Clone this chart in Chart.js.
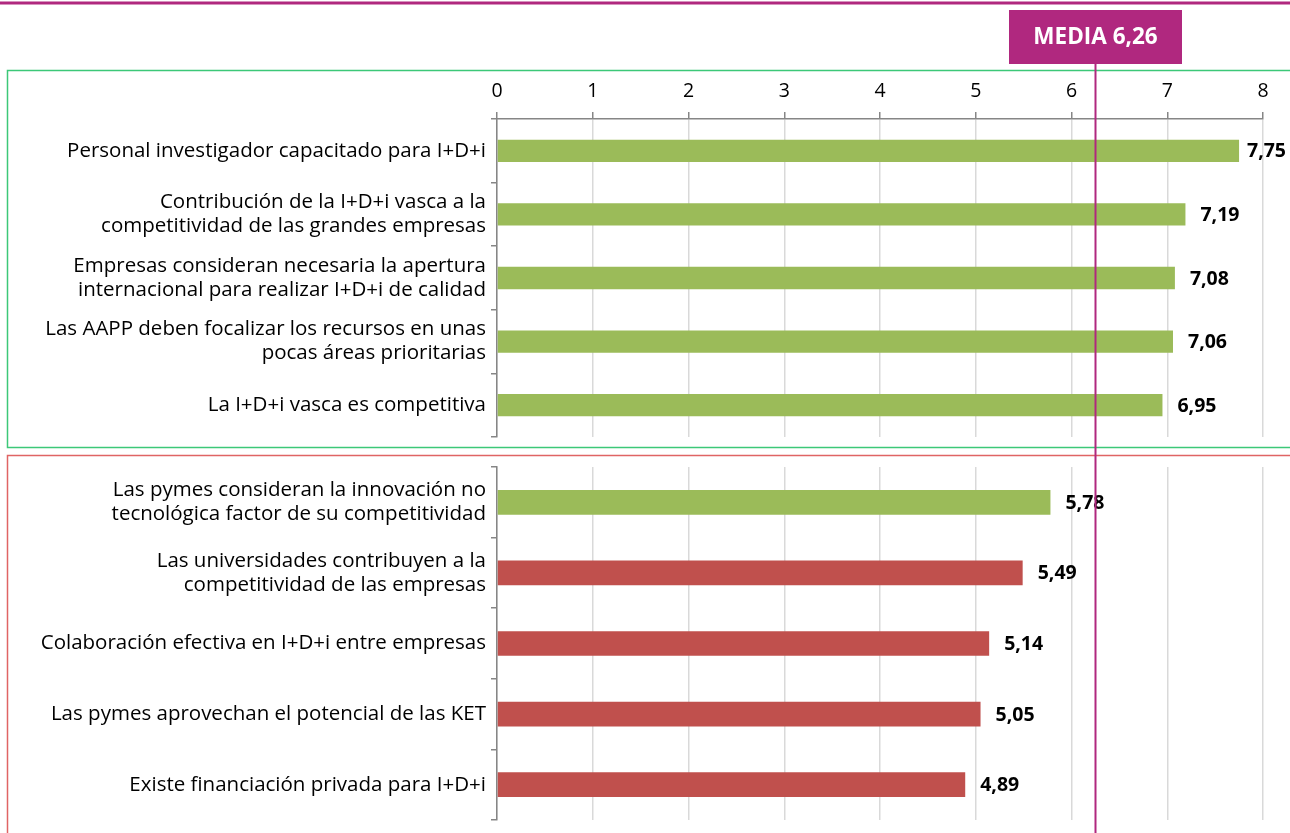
<!DOCTYPE html>
<html>
<head>
<meta charset="utf-8">
<script src="https://cdn.jsdelivr.net/npm/chart.js@4/dist/chart.umd.min.js"></script>
<style>
  html, body { margin: 0; padding: 0; background: #fff; }
  body { width: 1290px; height: 833px; position: relative; overflow: hidden; }
  #top-wrap { position: absolute; left: 0; top: 0; width: 1290px; height: 452px; }
  #bottom-wrap { position: absolute; left: 0; top: 452px; width: 1290px; height: 381px; }
</style>
</head>
<body>
<div id="top-wrap"><canvas id="top-chart"></canvas></div>
<div id="bottom-wrap"><canvas id="bottom-chart"></canvas></div>
<script>
// data
const topLabels = [
  ['Personal investigador capacitado para I+D+i'],
  ['Contribución de la I+D+i vasca a la', 'competitividad de las grandes empresas'],
  ['Empresas consideran necesaria la apertura', 'internacional para realizar I+D+i de calidad'],
  ['Las AAPP deben focalizar los recursos en unas', 'pocas áreas prioritarias'],
  ['La I+D+i vasca es competitiva'],
];
const topValues = [7.75, 7.19, 7.08, 7.06, 6.95];

const bottomLabels = [
  ['Las pymes consideran la innovación no', 'tecnológica factor de su competitividad'],
  ['Las universidades contribuyen a la', 'competitividad de las empresas'],
  ['Colaboración efectiva en I+D+i entre empresas'],
  ['Las pymes aprovechan el potencial de las KET'],
  ['Existe financiación privada para I+D+i'],
];
const bottomValues = [5.78, 5.49, 5.14, 5.05, 4.89];

const xTicks = [0, 1, 2, 3, 4, 5, 6, 7, 8];
const MEDIA = 6.26;

const GREEN = '#9bbb59';
const RED = '#c0504d';
const MAGENTA = '#b0287f';
const AXIS = '#868686';
const GRID = '#d9d9d9';
const FONT = '"Open Sans", "Noto Sans", sans-serif';

const bottomColors = [GREEN, RED, RED, RED, RED];

const fmt = v => v.toFixed(2).replace('.', ',');

/** value labels at the end of each bar */
const valueLabels = {
  id: 'valueLabels',
  afterDatasetsDraw(chart) {
    const ctx = chart.ctx;
    const meta = chart.getDatasetMeta(0);
    const data = chart.data.datasets[0].data;
    ctx.save();
    ctx.font = 'bold 19.5px ' + FONT;
    ctx.fillStyle = '#000';
    ctx.textBaseline = 'middle';
    ctx.textAlign = 'left';
    meta.data.forEach((bar, i) => {
      const txt = fmt(data[i]);
      const w = ctx.measureText(txt).width;
      const x = Math.min(bar.x + 15, chart.width - w - 4);
      ctx.fillText(txt, x, bar.y + 1);
    });
    ctx.restore();
  }
};

/** frame, media box and media line */
function overlay(kind) {
  return {
    id: 'overlay' + kind,
    afterDraw(chart) {
      const ctx = chart.ctx;
      const mx = Math.floor(chart.scales.x.getPixelForValue(MEDIA)) - 0.5;
      ctx.save();
      if (kind === 'top') {
        ctx.strokeStyle = MAGENTA;
        ctx.lineWidth = 3;
        ctx.beginPath(); ctx.moveTo(0, 3); ctx.lineTo(chart.width, 3); ctx.stroke();

        ctx.strokeStyle = '#3cc878';
        ctx.lineWidth = 1.5;
        ctx.strokeRect(7.5, 70.5, chart.width + 10, 377);

        const bw = 173, bh = 54;
        ctx.fillStyle = MAGENTA;
        ctx.fillRect(mx - bw / 2, 10, bw, bh);
        ctx.fillStyle = '#fff';
        ctx.font = 'bold 22.5px ' + FONT;
        ctx.textAlign = 'center';
        ctx.textBaseline = 'middle';
        ctx.fillText('MEDIA 6,26', mx, 38);

        ctx.strokeStyle = MAGENTA;
        ctx.lineWidth = 2;
        ctx.beginPath(); ctx.moveTo(mx, 64); ctx.lineTo(mx, chart.height); ctx.stroke();
      } else {
        ctx.strokeStyle = '#e06464';
        ctx.lineWidth = 1.5;
        ctx.strokeRect(7.5, 3.5, chart.width + 10, chart.height + 10);

        ctx.strokeStyle = MAGENTA;
        ctx.lineWidth = 2;
        ctx.beginPath(); ctx.moveTo(mx, 0); ctx.lineTo(mx, chart.height); ctx.stroke();
      }
      ctx.restore();
    }
  };
}

function buildChart(canvasId, labels, values, colors, kind) {
  const isTop = kind === 'top';
  return new Chart(document.getElementById(canvasId), {
    type: 'bar',
    data: {
      labels,
      datasets: [{
        data: values,
        backgroundColor: colors,
        borderWidth: 0,
        barPercentage: 0.7,
        categoryPercentage: 0.5,
      }]
    },
    options: {
      indexAxis: 'y',
      responsive: true,
      maintainAspectRatio: false,
      animation: false,
      layout: {
        padding: { left: 0, right: 27, top: isTop ? 0 : 15, bottom: isTop ? 15 : 13 }
      },
      plugins: {
        legend: { display: false },
        tooltip: { enabled: false },
      },
      scales: {
        x: {
          position: 'top',
          min: 0,
          max: 8,
          afterBuildTicks: (scale) => { scale.ticks = xTicks.map(v => ({ value: v })); },
          afterFit: (scale) => {
            scale.height = isTop ? 119 : 0;
            scale.paddingLeft = 0;
            scale.paddingRight = 0;
          },
          grid: {
            color: GRID,
            lineWidth: 1.5,
            drawTicks: isTop,
            tickLength: 7,
            tickColor: AXIS,
          },
          border: { display: isTop, color: AXIS, width: 1.5 },
          ticks: {
            display: isTop,
            color: '#000',
            padding: 9,
            font: { family: FONT, size: 19.5 },
          }
        },
        y: {
          afterFit: (scale) => {
            scale.width = 497;
            scale.paddingTop = 0;
            scale.paddingBottom = 0;
          },
          grid: {
            offset: true,
            drawOnChartArea: false,
            tickLength: 6,
            tickColor: AXIS,
            lineWidth: 1.5,
          },
          border: { color: AXIS, width: 1.5 },
          ticks: {
            color: '#000',
            padding: 5,
            font: { family: FONT, size: 20.5, lineHeight: 1.17 },
          }
        }
      }
    },
    plugins: [valueLabels, overlay(kind)]
  });
}

buildChart('top-chart', topLabels, topValues, GREEN, 'top');
buildChart('bottom-chart', bottomLabels, bottomValues, bottomColors, 'bottom');
</script>
</body>
</html>
